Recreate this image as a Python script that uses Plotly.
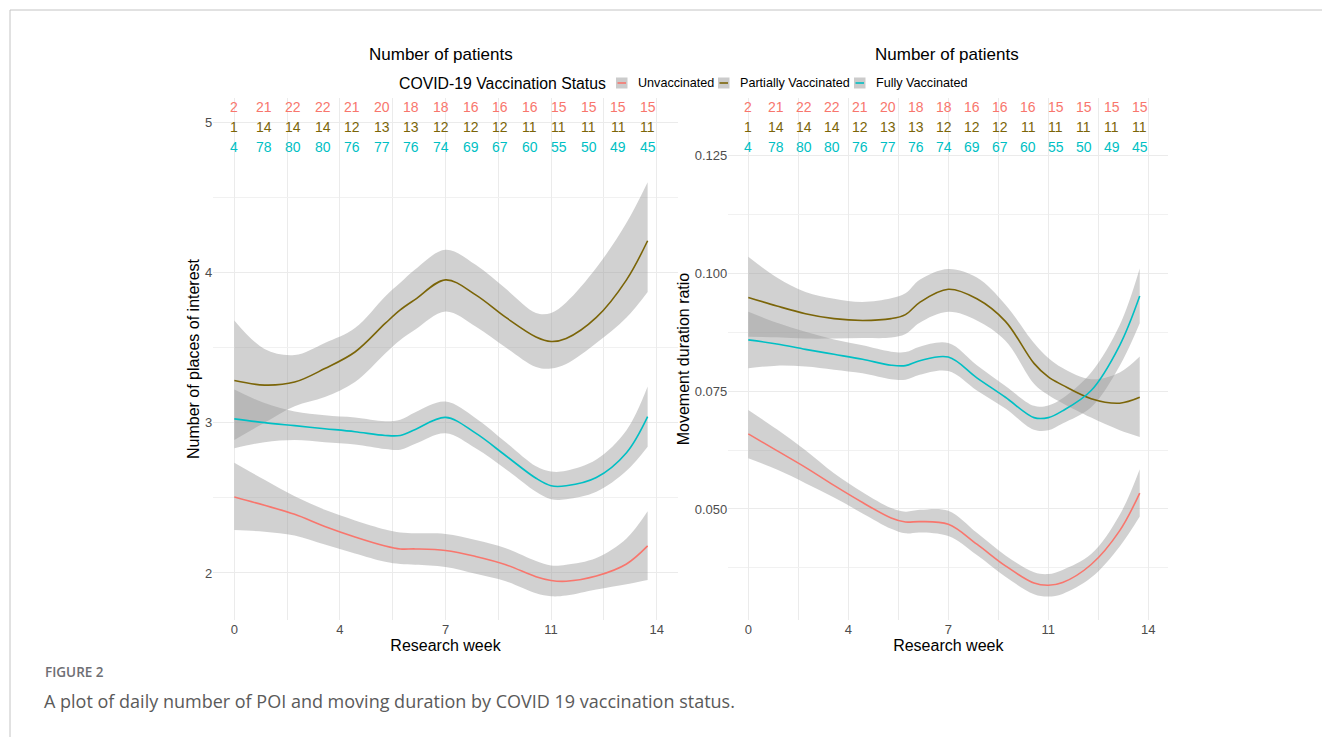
import plotly.graph_objects as go

# ---------------- data ----------------
weeks = [0, 1, 2, 3, 4, 5, 5.5, 6, 7, 8, 9, 10, 10.5, 11, 12, 13, 13.7]
count_weeks = [0, 0.98, 1.96, 2.94, 3.91, 4.89, 5.87, 6.85, 7.83, 8.81, 9.79, 10.76, 11.74, 12.72, 13.7]

n_unvax = [2, 21, 22, 22, 21, 20, 18, 18, 16, 16, 16, 15, 15, 15, 15]
n_partial = [1, 14, 14, 14, 12, 13, 13, 12, 12, 12, 11, 11, 11, 11, 11]
n_full = [4, 78, 80, 80, 76, 77, 76, 74, 69, 67, 60, 55, 50, 49, 45]

# Number of places of interest (loess fit + CI)
poi_unvax = [2.505, 2.45, 2.39, 2.31, 2.24, 2.18, 2.16, 2.16, 2.15, 2.11, 2.055, 1.975, 1.95, 1.945, 1.98, 2.06, 2.18]
poi_unvax_hi = [2.734, 2.62, 2.51, 2.42, 2.35, 2.29, 2.27, 2.265, 2.26, 2.22, 2.165, 2.08, 2.05, 2.055, 2.10, 2.23, 2.41]
poi_unvax_lo = [2.286, 2.275, 2.25, 2.19, 2.13, 2.075, 2.06, 2.055, 2.04, 1.995, 1.945, 1.865, 1.845, 1.85, 1.89, 1.925, 1.953]
poi_partial = [3.28, 3.25, 3.27, 3.36, 3.47, 3.66, 3.75, 3.82, 3.95, 3.85, 3.70, 3.57, 3.54, 3.56, 3.70, 3.95, 4.21]
poi_partial_hi = [3.68, 3.49, 3.45, 3.53, 3.63, 3.84, 3.93, 4.02, 4.15, 4.05, 3.89, 3.73, 3.73, 3.80, 4.03, 4.33, 4.60]
poi_partial_lo = [2.885, 3.00, 3.11, 3.17, 3.27, 3.46, 3.55, 3.62, 3.74, 3.64, 3.50, 3.37, 3.36, 3.39, 3.53, 3.70, 3.87]
poi_full = [3.025, 3.00, 2.98, 2.96, 2.94, 2.915, 2.915, 2.955, 3.035, 2.93, 2.78, 2.63, 2.58, 2.58, 2.635, 2.80, 3.04]
poi_full_hi = [3.22, 3.13, 3.075, 3.05, 3.035, 3.01, 3.02, 3.07, 3.14, 3.03, 2.87, 2.71, 2.675, 2.68, 2.755, 2.95, 3.24]
poi_full_lo = [2.83, 2.87, 2.885, 2.87, 2.855, 2.825, 2.82, 2.86, 2.93, 2.83, 2.69, 2.54, 2.49, 2.49, 2.54, 2.68, 2.84]

# Movement duration ratio (loess fit + CI)
dur_unvax = [0.06591, 0.06237, 0.05882, 0.05499, 0.05136, 0.04810, 0.04724, 0.04733, 0.04676, 0.04255, 0.03795, 0.03431, 0.03383, 0.03441, 0.03824, 0.04542, 0.05337]
dur_unvax_hi = [0.07099, 0.06687, 0.06246, 0.05758, 0.05356, 0.05021, 0.04944, 0.04982, 0.04963, 0.04494, 0.04015, 0.03661, 0.03622, 0.03709, 0.04044, 0.04877, 0.05844]
dur_unvax_lo = [0.06074, 0.05835, 0.05547, 0.05241, 0.04906, 0.04580, 0.04484, 0.04504, 0.04427, 0.04025, 0.03565, 0.03192, 0.03144, 0.03201, 0.03546, 0.04207, 0.04839]
dur_partial = [0.09483, 0.09301, 0.09138, 0.09033, 0.08995, 0.09033, 0.09119, 0.09378, 0.09655, 0.09454, 0.08975, 0.08085, 0.07797, 0.07625, 0.07338, 0.07242, 0.07366]
dur_partial_hi = [0.10345, 0.09905, 0.09598, 0.09454, 0.09387, 0.09464, 0.09569, 0.09857, 0.10086, 0.09905, 0.09330, 0.08516, 0.08200, 0.07989, 0.07750, 0.07894, 0.08229]
dur_partial_lo = [0.08650, 0.08640, 0.08612, 0.08612, 0.08621, 0.08631, 0.08707, 0.08947, 0.09177, 0.08995, 0.08564, 0.07654, 0.07415, 0.07242, 0.06936, 0.06668, 0.06524]
dur_full = [0.08583, 0.08497, 0.08382, 0.08277, 0.08171, 0.08047, 0.08037, 0.08142, 0.08219, 0.07779, 0.07367, 0.06936, 0.06936, 0.07080, 0.07510, 0.08468, 0.09512]
dur_full_hi = [0.09177, 0.08947, 0.08755, 0.08593, 0.08468, 0.08334, 0.08324, 0.08439, 0.08516, 0.08047, 0.07606, 0.07185, 0.07194, 0.07348, 0.07894, 0.08899, 0.10096]
dur_full_lo = [0.07980, 0.08037, 0.08018, 0.07951, 0.07874, 0.07750, 0.07740, 0.07846, 0.07922, 0.07510, 0.07127, 0.06677, 0.06668, 0.06811, 0.07156, 0.08037, 0.08937]

status_names = ["Unvaccinated", "Partially Vaccinated", "Fully Vaccinated"]
status_colors = ["#F8766D", "#7B6508", "#00BFC4"]

x_tickvals = [0, 3.5, 7, 10.5, 14]
x_ticktext = ["0", "4", "7", "11", "14"]
y1_tickvals = [2, 3, 4, 5]
y2_tickvals = [0.050, 0.075, 0.100, 0.125]
y2_ticktext = ["0.050", "0.075", "0.100", "0.125"]

# ---------------- figure ----------------
W, H = 1322, 737
FONT = "Arial, Liberation Sans, Helvetica, sans-serif"
RIBBON = "rgba(153,153,153,0.45)"

fig = go.Figure()

panels = [
    ("x", "y", [poi_unvax, poi_partial, poi_full],
     [poi_unvax_hi, poi_partial_hi, poi_full_hi],
     [poi_unvax_lo, poi_partial_lo, poi_full_lo]),
    ("x2", "y2", [dur_unvax, dur_partial, dur_full],
     [dur_unvax_hi, dur_partial_hi, dur_full_hi],
     [dur_unvax_lo, dur_partial_lo, dur_full_lo]),
]

for pi, (xa, ya, means, his, los) in enumerate(panels):
    for k in range(3):
        fig.add_trace(go.Scatter(x=weeks, y=his[k], xaxis=xa, yaxis=ya, mode="lines",
                                 line=dict(width=0, shape="spline", smoothing=1),
                                 showlegend=False, hoverinfo="skip"))
        fig.add_trace(go.Scatter(x=weeks, y=los[k], xaxis=xa, yaxis=ya, mode="lines",
                                 line=dict(width=0, shape="spline", smoothing=1),
                                 fill="tonexty", fillcolor=RIBBON,
                                 showlegend=False, hoverinfo="skip"))
    for k in range(3):
        fig.add_trace(go.Scatter(x=weeks, y=means[k], xaxis=xa, yaxis=ya, mode="lines",
                                 line=dict(color=status_colors[k], width=1.6, shape="spline", smoothing=1),
                                 name=status_names[k], showlegend=False))


def px_x(p):
    return p / W


def px_y(p):
    return 1 - p / H


y_dom = [px_y(620), px_y(98)]
grid = "#EBEBEB"
axis_common = dict(showline=False, zeroline=False, ticks="", showgrid=True,
                   gridcolor=grid, gridwidth=1,
                   tickfont=dict(family=FONT, size=13, color="#4D4D4D"))

fig.update_layout(
    width=W, height=H,
    margin=dict(l=0, r=0, t=0, b=0),
    paper_bgcolor="white", plot_bgcolor="white",
    font=dict(family=FONT, color="black"),
    showlegend=False,
    xaxis=dict(domain=[px_x(213.2), px_x(677.8)], range=[-0.7, 14.7], anchor="y",
               tickvals=x_tickvals, ticktext=x_ticktext,
               minor=dict(tick0=0, dtick=1.75, showgrid=True, gridcolor=grid, gridwidth=0.7),
               title=dict(text="Research week", font=dict(size=16), standoff=2),
               **axis_common),
    yaxis=dict(domain=y_dom, range=[1.6873, 5.1597], anchor="x",
               tickvals=y1_tickvals,
               minor=dict(tick0=0.5, dtick=0.5, showgrid=True, gridcolor="#F1F1F1", gridwidth=0.7),
               title=dict(text="Number of places of interest", font=dict(size=16), standoff=1),
               **axis_common),
    xaxis2=dict(domain=[px_x(728.3), px_x(1168.3)], range=[-0.7, 14.7], anchor="y2",
                tickvals=x_tickvals, ticktext=x_ticktext,
                minor=dict(tick0=0, dtick=1.75, showgrid=True, gridcolor=grid, gridwidth=0.7),
                title=dict(text="Research week", font=dict(size=16), standoff=2),
                **axis_common),
    yaxis2=dict(domain=y_dom, range=[0.02648, 0.13708], anchor="x2",
                tickvals=y2_tickvals, ticktext=y2_ticktext,
                minor=dict(tick0=0.0125, dtick=0.025, showgrid=True, gridcolor="#F1F1F1", gridwidth=0.7),
                title=dict(text="Movement duration ratio", font=dict(size=16), standoff=1),
                **axis_common),
)

annotations = []
shapes = []

# panel titles
for mid in [441, 946.5]:
    annotations.append(dict(text="Number of patients", x=px_x(mid), y=px_y(55),
                            xref="paper", yref="paper", xanchor="center", yanchor="middle",
                            showarrow=False, font=dict(family=FONT, size=17, color="black")))

# legend (ggplot style: grey key with coloured line)
annotations.append(dict(text="COVID-19 Vaccination Status", x=px_x(397), y=px_y(83),
                        xref="paper", yref="paper", xanchor="left", yanchor="middle",
                        showarrow=False, font=dict(family=FONT, size=15.8, color="black")))
key_left = [616, 718, 854]
for k in range(3):
    x0 = key_left[k]
    shapes.append(dict(type="rect", xref="paper", yref="paper",
                       x0=px_x(x0), x1=px_x(x0 + 11.5), y0=px_y(88.5), y1=px_y(77.5),
                       fillcolor="#CBCBCB", line=dict(width=0)))
    shapes.append(dict(type="line", xref="paper", yref="paper",
                       x0=px_x(x0 + 1.5), x1=px_x(x0 + 10), y0=px_y(83), y1=px_y(83),
                       line=dict(color=status_colors[k], width=1.6)))
    annotations.append(dict(text=status_names[k], x=px_x(x0 + 19.5), y=px_y(83),
                            xref="paper", yref="paper", xanchor="left", yanchor="middle",
                            showarrow=False, font=dict(family=FONT, size=12.6, color="black")))

# patient count table
row_y = [px_y(107), px_y(127), px_y(147)]
count_rows = [n_unvax, n_partial, n_full]
for xa in ["x", "x2"]:
    for r in range(3):
        for i, n in enumerate(count_rows[r]):
            annotations.append(dict(text=str(n), x=count_weeks[i], y=row_y[r],
                                    xref=xa, yref="paper", xanchor="center", yanchor="middle",
                                    showarrow=False,
                                    font=dict(family=FONT, size=14, color=status_colors[r])))

# caption
annotations.append(dict(text="FIGURE 2", x=px_x(43), y=px_y(672), xref="paper", yref="paper",
                        xanchor="left", yanchor="middle", showarrow=False,
                        font=dict(family="Open Sans, sans-serif", size=13.5, color="#6E6E73", weight=600)))
annotations.append(dict(text="A plot of daily number of POI and moving duration by COVID 19 vaccination status.",
                        x=px_x(42), y=px_y(701), xref="paper", yref="paper",
                        xanchor="left", yanchor="middle", showarrow=False,
                        font=dict(family="Open Sans, sans-serif", size=18, color="#5A5A5A")))

# page frame lines
shapes.append(dict(type="line", xref="paper", yref="paper", x0=px_x(10), x1=1, y0=px_y(10), y1=px_y(10),
                   line=dict(color="#C4C4C4", width=1)))
shapes.append(dict(type="line", xref="paper", yref="paper", x0=px_x(10), x1=px_x(10), y0=px_y(10), y1=0,
                   line=dict(color="#C4C4C4", width=1)))

fig.update_layout(annotations=annotations, shapes=shapes)

fig.write_html("out.html", config={"displayModeBar": False},
               post_script="document.body.style.margin='0px';document.body.style.overflow='hidden';")
